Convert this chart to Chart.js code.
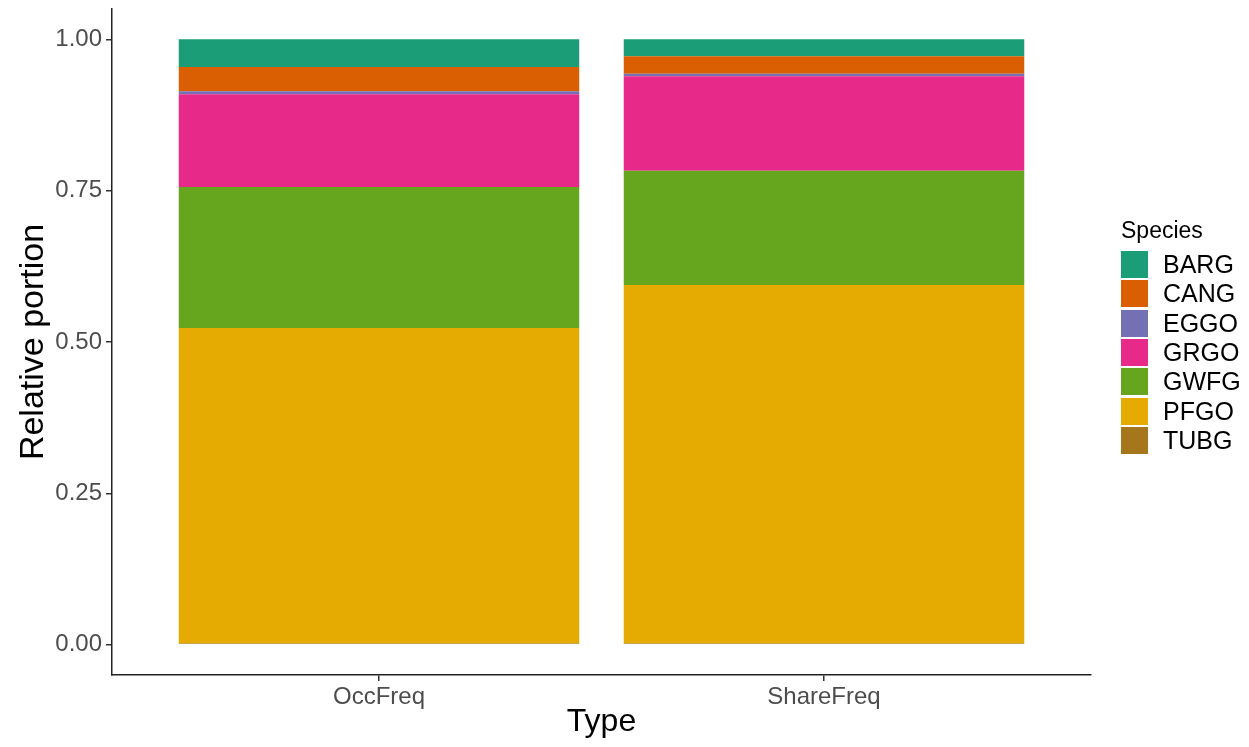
<!DOCTYPE html>
<html lang="en">
<head>
    <meta charset="UTF-8">
    <title>Relative portion by Type</title>
    <script src="https://cdn.jsdelivr.net/npm/chart.js"></script>
    <style>
        body { margin: 0; background: white; font-family: 'Liberation Sans', Arial, Helvetica, sans-serif; }
        .wrap { position: relative; width: 1249px; height: 747px; }
        #legend { position: absolute; left: 1121px; top: 216px; }
        #legend .title { font-size: 23px; color: #000; height: 34px; line-height: 28px; }
        #legend .row { display: flex; align-items: center; height: 29.3px; }
        #legend .key { width: 27px; height: 27px; margin-right: 15px; }
        #legend .lab { font-size: 25px; color: #000; }
    </style>
</head>
<body>
<div class="wrap">
    <canvas id="chart" width="1249" height="747"></canvas>
    <div id="legend"></div>
</div>
<script>
    // --- data ---
    const types = ['OccFreq', 'ShareFreq'];
    const species = ['BARG', 'CANG', 'EGGO', 'GRGO', 'GWFG', 'PFGO', 'TUBG'];
    const speciesColors = ['#1B9E77', '#D95F02', '#7570B3', '#E7298A', '#66A61E', '#E6AB02', '#A6761D'];

    const BARG = [0.046, 0.028];
    const CANG = [0.040, 0.029];
    const EGGO = [0.005, 0.004];
    const GRGO = [0.153, 0.156];
    const GWFG = [0.233, 0.189];
    const PFGO = [0.521, 0.592];
    const TUBG = [0.002, 0.002];

    const yTicks = [0, 0.25, 0.5, 0.75, 1];

    const values = [BARG, CANG, EGGO, GRGO, GWFG, PFGO, TUBG];
    const font = "'Liberation Sans', Arial, Helvetica, sans-serif";

    // ggplot stacks the first level on top, so build bottom-up
    const datasets = species.map((name, i) => ({
        label: name,
        data: values[i].map((v, j) => ({ x: j + 1, y: v })),
        backgroundColor: speciesColors[i],
        borderWidth: 0,
        categoryPercentage: 1,
        barPercentage: 0.9
    })).reverse();

    new Chart(document.getElementById('chart'), {
        type: 'bar',
        data: { datasets },
        options: {
            responsive: false,
            animation: false,
            layout: { padding: { top: 9, right: 158, left: 0, bottom: 0 } },
            plugins: { legend: { display: false }, tooltip: { enabled: false } },
            scales: {
                x: {
                    type: 'linear',
                    min: 0.4,
                    max: 2.6,
                    stacked: true,
                    offset: false,
                    afterBuildTicks: s => { s.ticks = types.map((t, i) => ({ value: i + 1 })); },
                    afterFit: s => { s.height = 72; s.paddingLeft = 0; s.paddingRight = 0; },
                    ticks: {
                        callback: v => types[v - 1] || '',
                        color: '#4D4D4D',
                        font: { size: 24, family: font },
                        padding: 2,
                        maxRotation: 0,
                        autoSkip: false
                    },
                    grid: { offset: false, drawOnChartArea: false, tickLength: 6, color: '#333', lineWidth: 1.5 },
                    border: { color: '#222', width: 1.5 },
                    title: { display: true, text: 'Type', color: '#000', font: { size: 32, family: font }, padding: { top: 0, bottom: 6 } }
                },
                y: {
                    min: -0.05,
                    max: 1.05,
                    stacked: true,
                    afterBuildTicks: s => { s.ticks = yTicks.map(v => ({ value: v })); },
                    afterFit: s => { s.width = 112; s.paddingTop = 0; s.paddingBottom = 0; },
                    ticks: {
                        callback: v => Number(v).toFixed(2),
                        color: '#4D4D4D',
                        font: { size: 24, family: font },
                        padding: 4
                    },
                    grid: { drawOnChartArea: false, tickLength: 6, color: '#333', lineWidth: 1.5 },
                    border: { color: '#222', width: 1.5 },
                    title: { display: true, text: 'Relative portion', color: '#000', font: { size: 34, family: font }, padding: { top: 13, bottom: 0 } }
                }
            }
        }
    });

    // legend on the right, like ggplot's
    const legend = document.getElementById('legend');
    legend.innerHTML = '<div class="title">Species</div>' + species.map((name, i) =>
        `<div class="row"><div class="key" style="background:${speciesColors[i]}"></div><span class="lab">${name}</span></div>`
    ).join('');
</script>
</body>
</html>
